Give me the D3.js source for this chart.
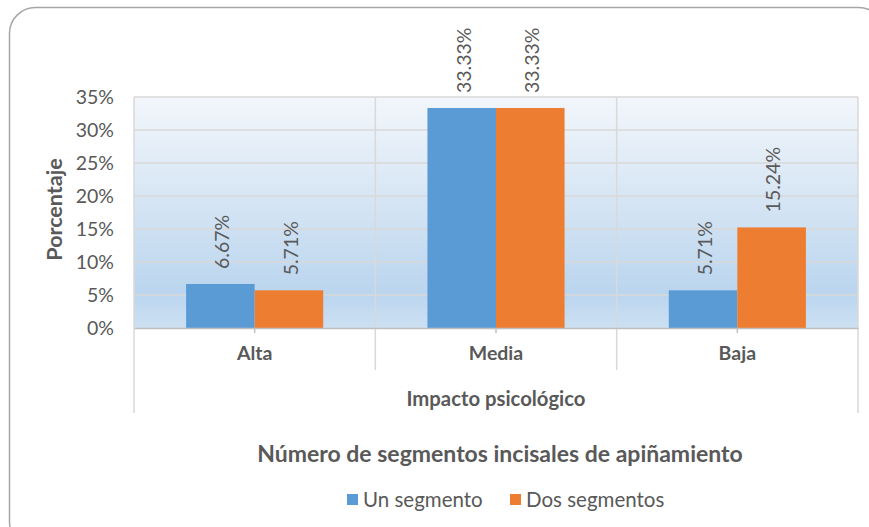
<!DOCTYPE html>
<html>
<head>
<meta charset="utf-8">
<script src="https://cdn.jsdelivr.net/npm/d3@7/dist/d3.min.js"></script>
<style>
  html, body { margin: 0; padding: 0; background: #ffffff; }
  svg { display: block; }
  text { font-family: Lato, "Open Sans", sans-serif; fill: #595959; }
</style>
</head>
<body>
<svg id="chart" width="869" height="527"></svg>
<script>
const categories = ["Alta", "Media", "Baja"];
const seriesNames = ["Un segmento", "Dos segmentos"];
const unSegmento = [6.67, 33.33, 5.71];
const dosSegmentos = [5.71, 33.33, 15.24];
const yTicks = [0, 5, 10, 15, 20, 25, 30, 35];
const seriesColors = ["#5b9bd5", "#ed7d31"];
const axisTitleX = "Impacto psicológico";
const axisTitleY = "Porcentaje";
const chartTitle = "Número de segmentos incisales de apiñamiento";

(function () {
const seriesValues = [unSegmento, dosSegmentos];
const rows = categories.map((c, i) => ({
  cat: c,
  vals: seriesNames.map((s, j) => ({ s, j, v: seriesValues[j][i] }))
}));

const svg = d3.select("#chart");

// outer rounded frame
svg.append("rect")
  .attr("x", 9.5).attr("y", 7.5)
  .attr("width", 875).attr("height", 540)
  .attr("rx", 26).attr("ry", 26)
  .attr("fill", "#ffffff")
  .attr("stroke", "#a6a6a6").attr("stroke-width", 1.5);

const pL = 134, pR = 858, pT = 97, pB = 328;

const x = d3.scaleBand().domain(categories).range([pL, pR]).paddingInner(0).paddingOuter(0);
const xi = d3.scaleBand().domain(seriesNames).range([0, x.bandwidth()]).paddingInner(0).paddingOuter(0.76);
const y = d3.scaleLinear().domain([0, 35]).range([pB, pT]);

// gradient background
const defs = svg.append("defs");
const grad = defs.append("linearGradient").attr("id", "bg").attr("x1", 0).attr("y1", 0).attr("x2", 0).attr("y2", 1);
grad.append("stop").attr("offset", "0%").attr("stop-color", "#f2f6fb");
grad.append("stop").attr("offset", "45%").attr("stop-color", "#d6e5f4");
grad.append("stop").attr("offset", "85%").attr("stop-color", "#bad5ee");
grad.append("stop").attr("offset", "100%").attr("stop-color", "#cde0f2");

svg.append("rect")
  .attr("x", pL).attr("y", pT)
  .attr("width", pR - pL).attr("height", pB - pT)
  .attr("fill", "url(#bg)");

// horizontal gridlines
svg.append("g").selectAll("line").data(yTicks.filter(t => t > 0)).join("line")
  .attr("x1", pL).attr("x2", pR)
  .attr("y1", d => y(d)).attr("y2", d => y(d))
  .attr("stroke", "#d9d9d9").attr("stroke-width", 1.5);

// vertical separators (within plot and below)
const bounds = categories.map(c => x(c)).concat([pR]);
svg.append("g").selectAll("line").data(bounds).join("line")
  .attr("x1", d => d).attr("x2", d => d)
  .attr("y1", pT)
  .attr("y2", (d, i) => (i === 0 || i === bounds.length - 1) ? 413 : 370)
  .attr("stroke", "#d9d9d9").attr("stroke-width", 1.5);

// y-axis labels
const yAxis = d3.axisLeft(y).tickValues(yTicks).tickFormat(d => d + "%").tickSize(0).tickPadding(0);
const gy = svg.append("g").attr("transform", `translate(${pL - 20},0)`).call(yAxis);
gy.select(".domain").remove();
gy.selectAll("text").attr("font-size", 19.5).style("font-family", "Lato, sans-serif").attr("fill", "#595959");

// bars
const groups = svg.append("g").selectAll("g").data(rows).join("g")
  .attr("transform", d => `translate(${x(d.cat)},0)`);
groups.selectAll("rect").data(d => d.vals).join("rect")
  .attr("x", d => xi(d.s)).attr("width", xi.bandwidth())
  .attr("y", d => y(d.v)).attr("height", d => y(0) - y(d.v))
  .attr("fill", d => seriesColors[d.j]);

// data labels
groups.selectAll("text").data(d => d.vals).join("text")
  .attr("transform", d => `translate(${xi(d.s) + xi.bandwidth() / 2 + 2},${y(d.v) - 15}) rotate(-90)`)
  .attr("dy", "0.35em")
  .attr("text-anchor", "start")
  .attr("font-size", 19.5)
  .text(d => d.v.toFixed(2) + "%");

// x axis line and ticks
const xAxis = d3.axisBottom(x).tickSize(5).tickSizeOuter(0).tickPadding(13);
const gx = svg.append("g").attr("transform", `translate(0,${pB})`).call(xAxis);
gx.select(".domain").attr("stroke", "#bfbfbf").attr("stroke-width", 1.5);
gx.selectAll(".tick line").attr("stroke", "#bfbfbf").attr("stroke-width", 1.5);
gx.selectAll("text").attr("font-size", 19.5).attr("font-weight", "bold")
  .style("font-family", "Lato, sans-serif").attr("fill", "#595959");

// axis titles
svg.append("text")
  .attr("x", (pL + pR) / 2).attr("y", 406)
  .attr("text-anchor", "middle").attr("font-size", 20.3).attr("font-weight", "bold")
  .text(axisTitleX);

svg.append("text")
  .attr("transform", `translate(62,${(pT + pB) / 2 - 3}) rotate(-90)`)
  .attr("text-anchor", "middle").attr("font-size", 21.5).attr("font-weight", "bold")
  .text(axisTitleY);

// chart title (below)
svg.append("text")
  .attr("x", 500).attr("y", 462)
  .attr("text-anchor", "middle").attr("font-size", 23).attr("font-weight", "bold")
  .text(chartTitle);

// legend
const legendX = [347, 510];
const lg = svg.append("g").selectAll("g").data(seriesNames).join("g")
  .attr("transform", (d, i) => `translate(${legendX[i]},494)`);
lg.append("rect").attr("width", 11).attr("height", 11).attr("fill", (d, i) => seriesColors[i]);
lg.append("text").attr("x", 16).attr("y", 5.5).attr("dy", "0.35em")
  .attr("font-size", 20.5).text(d => d);
})();
</script>
</body>
</html>
